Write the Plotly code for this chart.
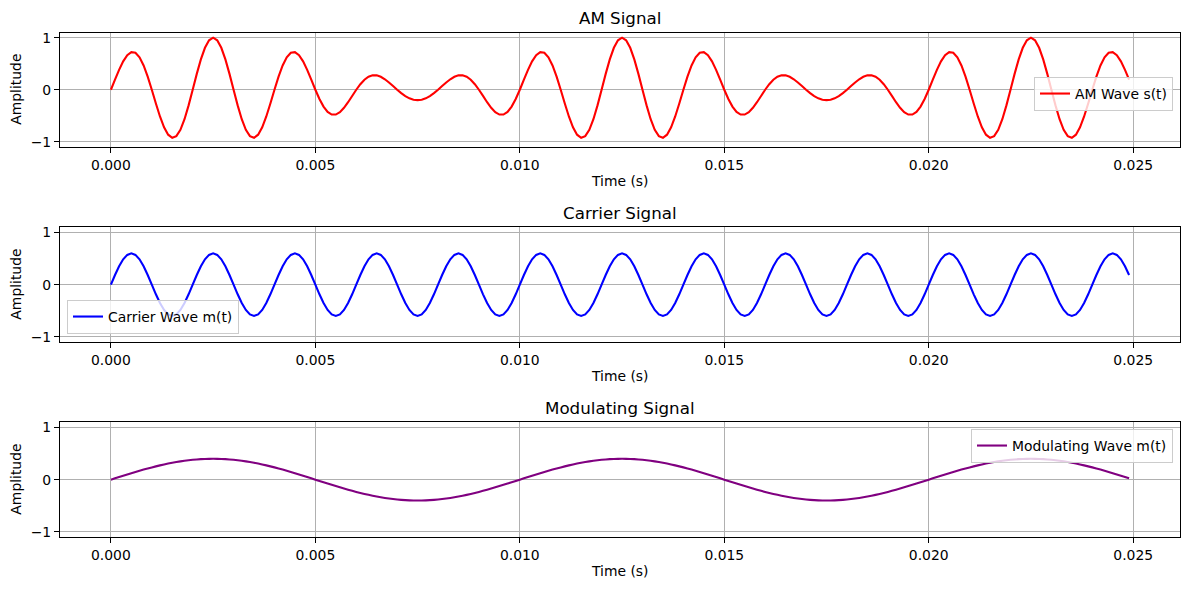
import numpy as np
import plotly.graph_objects as go

# ---- data parameters ----
sample_rate = 10000          # samples per second
n_samples = 250              # t = 0 ... 0.0249 s
carrier_amplitude = 0.6
carrier_frequency = 500      # Hz
modulating_amplitude = 0.4
modulating_frequency = 100   # Hz

panel_titles = ["AM Signal", "Carrier Signal", "Modulating Signal"]
series_names = ["AM Wave s(t)", "Carrier Wave m(t)", "Modulating Wave m(t)"]
series_colors = ["red", "blue", "purple"]
x_tick_values = [0.0, 0.005, 0.010, 0.015, 0.020, 0.025]
y_tick_values = [-1, 0, 1]

t = np.arange(n_samples) / sample_rate
carrier = carrier_amplitude * np.sin(2 * np.pi * carrier_frequency * t)
modulating = modulating_amplitude * np.sin(2 * np.pi * modulating_frequency * t)
am_wave = (carrier_amplitude + modulating) * np.sin(2 * np.pi * carrier_frequency * t)
series = [am_wave, carrier, modulating]

# ---- layout (pixel geometry) ----
W, H = 1189, 590
x_left, x_right = 60, 1180
axes_tops = [32.5, 227.3, 422.3]
axes_bottoms = [147, 342, 537]
FONT = "DejaVu Sans"

fig = go.Figure()
span = t[-1] - t[0]
x_range = [t[0] - 0.05 * span, t[-1] + 0.05 * span]

legend_specs = [
    dict(x=1173 / W, y=1 - 77 / H, xanchor="right", yanchor="top"),
    dict(x=67 / W, y=1 - 334 / H, xanchor="left", yanchor="bottom"),
    dict(x=1173 / W, y=1 - 429 / H, xanchor="right", yanchor="top"),
]

annotations = []
layout_axes = {}
for i in range(3):
    xa = "xaxis" if i == 0 else f"xaxis{i+1}"
    ya = "yaxis" if i == 0 else f"yaxis{i+1}"
    xref = "x" if i == 0 else f"x{i+1}"
    yref = "y" if i == 0 else f"y{i+1}"
    leg = "legend" if i == 0 else f"legend{i+1}"
    fig.add_trace(go.Scatter(
        x=t, y=series[i], mode="lines", name=series_names[i],
        line=dict(color=series_colors[i], width=2.1, simplify=False),
        xaxis=xref, yaxis=yref, legend=leg, showlegend=True,
    ))
    common = dict(
        showline=True, linecolor="black", linewidth=1.1, mirror=True,
        ticks="outside", ticklen=5, tickwidth=1.1, tickcolor="black",
        showgrid=True, gridcolor="#b0b0b0", gridwidth=1.1, zeroline=False,
        tickfont=dict(family=FONT, size=13.9, color="black"),
    )
    layout_axes[xa] = dict(
        common, domain=[x_left / W, x_right / W], range=x_range,
        tickvals=x_tick_values, tickformat=".3f", anchor=yref,
    )
    layout_axes[ya] = dict(
        common, domain=[1 - axes_bottoms[i] / H, 1 - axes_tops[i] / H],
        range=[-1.1, 1.1], tickvals=y_tick_values, anchor=xref,
    )
    layout_axes[leg] = dict(
        legend_specs[i], bgcolor="rgba(255,255,255,0.8)", bordercolor="#cccccc",
        borderwidth=1, font=dict(family=FONT, size=13.9, color="black"),
    )
    annotations.append(dict(
        text=panel_titles[i], xref="paper", yref="paper",
        x=(x_left + x_right) / 2 / W, y=1 - (axes_tops[i] - 14.5) / H,
        xanchor="center", yanchor="middle", showarrow=False,
        font=dict(family=FONT, size=16.7, color="black"),
    ))
    annotations.append(dict(
        text="Time (s)", xref="paper", yref="paper",
        x=(x_left + x_right) / 2 / W, y=1 - (axes_bottoms[i] + 34) / H,
        xanchor="center", yanchor="middle", showarrow=False,
        font=dict(family=FONT, size=13.9, color="black"),
    ))
    annotations.append(dict(
        text="Amplitude", xref="paper", yref="paper", textangle=-90,
        x=16 / W, y=1 - (axes_tops[i] + axes_bottoms[i]) / 2 / H,
        xanchor="center", yanchor="middle", showarrow=False,
        font=dict(family=FONT, size=13.9, color="black"),
    ))

fig.update_layout(
    width=W, height=H, margin=dict(l=0, r=0, t=0, b=0, autoexpand=False),
    paper_bgcolor="white", plot_bgcolor="white",
    font=dict(family=FONT, color="black"),
    annotations=annotations, **layout_axes,
)
fig.write_html("out.html")
